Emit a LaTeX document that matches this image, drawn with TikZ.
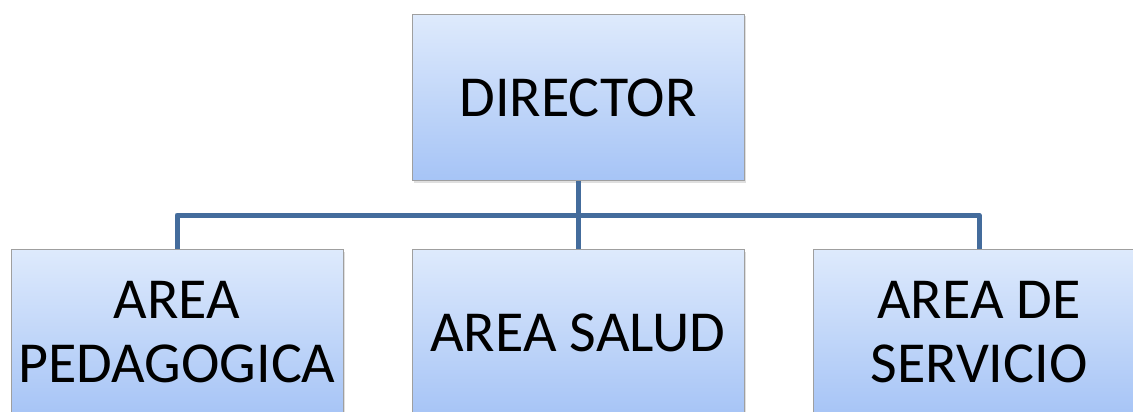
\documentclass[tikz,border=0pt]{standalone}
\usepackage{fontspec}
\setmainfont{Carlito}
\usepackage{xcolor}
\usepackage{tikz}
\usetikzlibrary{positioning}
\usetikzlibrary{shadows}
\definecolor{boxtop}{RGB}{222,234,252}
\definecolor{boxbottom}{RGB}{166,196,246}
\definecolor{linkblue}{RGB}{68,108,156}
\tikzstyle{unit} = [rectangle, minimum width=332pt, minimum height=166pt, text centered, align=center, draw=gray!75, line width=0.8pt, top color=boxtop, bottom color=boxbottom, drop shadow={opacity=0.25, shadow xshift=2pt, shadow yshift=-2pt}, inner sep=0pt]
\tikzstyle{head} = [unit, font=\fontsize{58}{64}\selectfont]
\tikzstyle{area} = [unit, font=\fontsize{58}{64}\selectfont]
\tikzstyle{link} = [linkblue, line width=5pt, line join=round]

\begin{document}
\begin{tikzpicture}[on grid]
    \useasboundingbox (0,0) rectangle (1133pt,-412pt);
    \node(dir)[head] at (578pt,-97.5pt) {DIRECTOR};
    \node(salud)[area, node distance=235pt, below of=dir] {AREA SALUD};
    \node(peda)[area, node distance=401pt, left of=salud] {AREA\\PEDAGOGICA};
    \node(serv)[area, node distance=401pt, right of=salud] {AREA DE\\SERVICIO};
    \coordinate(bus) at (578pt,-215pt);
    \draw[link](dir.south) -- (salud.north);
    \draw[link](peda.north) |- (bus) -| (serv.north);
  \end{tikzpicture}
\end{document}
